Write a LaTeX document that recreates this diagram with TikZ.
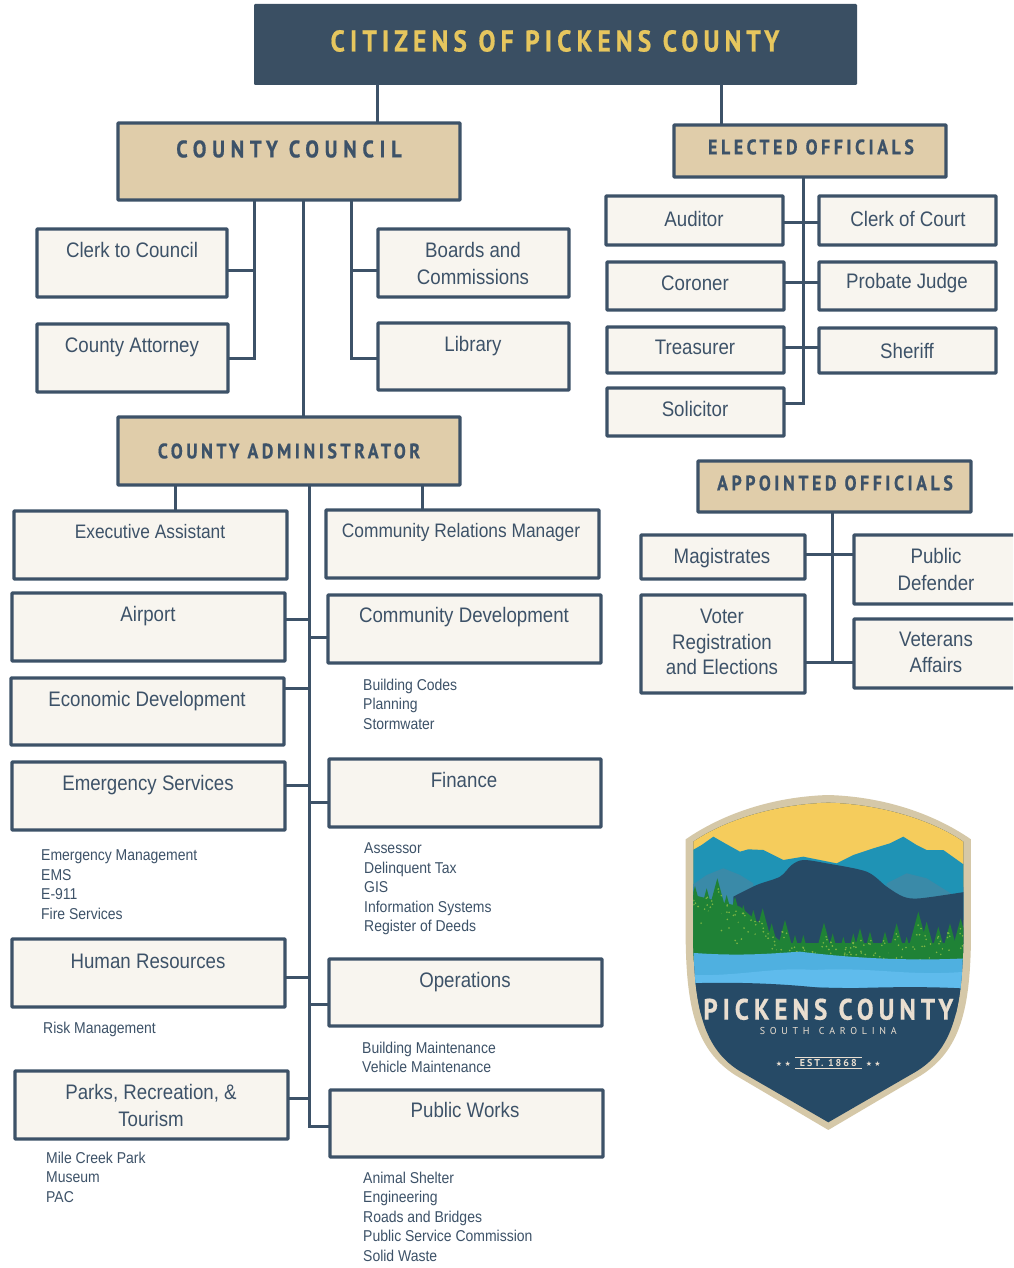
\documentclass[tikz,border=0pt]{standalone}
\usepackage{fontspec}
\setmainfont{Liberation Sans}[FakeStretch=0.89]
\newfontfamily\headf{PT Sans}[LetterSpace=17,FakeStretch=0.85,BoldFeatures={FakeBold=0.6}]
\newfontfamily\headwide{PT Sans}[LetterSpace=24,FakeStretch=0.85,BoldFeatures={FakeBold=0.6}]
\newfontfamily\logof{PT Sans}[LetterSpace=20]
\newfontfamily\starf{DejaVu Sans}
\definecolor{navy}{HTML}{3A4F63}
\definecolor{ink}{HTML}{3D5268}
\definecolor{tan}{HTML}{E0CDAA}
\definecolor{cream}{HTML}{F8F5EF}
\definecolor{gold}{HTML}{E6C65E}
\definecolor{lnavy}{HTML}{264A66}
\definecolor{lteal}{HTML}{1F93B5}
\definecolor{lhill}{HTML}{3A8AA8}
\definecolor{lsky}{HTML}{F5CC5C}
\definecolor{lgreen}{HTML}{1F8236}
\definecolor{llime}{HTML}{7DB544}
\definecolor{lwater}{HTML}{4FB0E0}
\definecolor{lwater2}{HTML}{5FBBEC}
\definecolor{lrim}{HTML}{D5C8A8}
\definecolor{ltext}{HTML}{E9DED0}
\tikzset{
  x=1pt,y=-1pt,
  boxbase/.style={draw=ink,line width=3.3pt,rounded corners=0.8pt,inner sep=0pt,outer sep=0pt},
  whitebox/.style={boxbase,fill=cream},
  tanbox/.style={boxbase,fill=tan},
  link/.style={draw=ink,line width=3pt,line cap=butt},
  lab/.style={text=ink,font=\fontsize{21}{26.2}\selectfont,align=center,inner sep=0pt},
  labsmall/.style={lab,font=\fontsize{19.5}{24}\selectfont},
  sublist/.style={text=ink,font=\fontsize{15.7}{19.6}\selectfont,align=left,anchor=north west,inner sep=0pt,yshift=-3.5pt},
  headtxt/.style={text=ink,inner sep=0pt},
}
% name, x0, y0, x1, y1, style
\newcommand\rbox[6]{\path let \n1={(#2+#4)/2},\n2={(#3+#5)/2},\n3={abs(#4-#2)},\n4={abs(#5-#3)} in
  node[#6,minimum width=\n3,minimum height=\n4] (#1) at (\n1,\n2) {};}
\newcommand\tobus[3]{\coordinate (tmpb) at (#2,#3); \draw[link] (#1 |- tmpb) -- (tmpb);}
\newcommand\drop[3]{\coordinate (tmpb) at (#3,0); \draw[link] (#1.south -| tmpb) -- (#2.north -| tmpb);}
\newcommand\shieldpath[1]{%
 (565,45+#1) .. controls (400,50+#1) and (250,100+#1) .. (137+#1,178+0.3*#1)
 -- (137+#1,480) .. controls (140+#1,690) and (170+#1,810) .. (285+0.8*#1,885-0.4*#1)
 -- (565,1050-#1) -- (845-0.8*#1,885-0.4*#1)
 .. controls (960-#1,810) and (990-#1,690) .. (993-#1,480)
 -- (993-#1,178+0.3*#1) .. controls (880,100+#1) and (730,50+#1) .. (565,45+#1) -- cycle}
\usetikzlibrary{calc}
\begin{document}
\begin{tikzpicture}
\clip (0,0) rectangle (1013,1268);
\fill[white] (0,0) rectangle (1013,1268);

% boxes
\node[fill=navy,draw=navy,line width=1pt,minimum width=602pt,minimum height=80pt,inner sep=0pt,outer sep=0pt,rounded corners=0.8pt] (top) at (555.5,44.5) {};
\rbox{cc}{118}{123}{460}{200}{tanbox}
\rbox{el}{674}{125}{946}{177}{tanbox}
\rbox{clerk}{37}{229}{227}{297}{whitebox}
\rbox{atty}{37}{324}{228}{392}{whitebox}
\rbox{boards}{378}{229}{569}{297}{whitebox}
\rbox{lib}{378}{323}{569}{390}{whitebox}
\rbox{aud}{606}{196}{783}{245}{whitebox}
\rbox{coc}{819}{196}{996}{245}{whitebox}
\rbox{cor}{607}{262}{784}{310}{whitebox}
\rbox{prob}{819}{262}{996}{310}{whitebox}
\rbox{treas}{607}{327}{784}{373}{whitebox}
\rbox{sher}{819}{328}{996}{373}{whitebox}
\rbox{sol}{607}{388}{784}{436}{whitebox}
\rbox{adm}{118}{417}{460}{485}{tanbox}
\rbox{exec}{14}{511}{287}{579}{whitebox}
\rbox{crm}{326}{510}{599}{578}{whitebox}
\rbox{air}{12}{593}{285}{661}{whitebox}
\rbox{cd}{328}{595}{601}{663}{whitebox}
\rbox{econ}{11}{678}{284}{745}{whitebox}
\rbox{ems}{12}{762}{285}{830}{whitebox}
\rbox{fin}{329}{759}{601}{827}{whitebox}
\rbox{hr}{12}{939}{285}{1007}{whitebox}
\rbox{ops}{329}{959}{602}{1026}{whitebox}
\rbox{parks}{15}{1071}{288}{1139}{whitebox}
\rbox{pw}{330}{1090}{603}{1157}{whitebox}
\rbox{app}{698}{461}{971}{512}{tanbox}
\rbox{mag}{641}{535}{805}{579}{whitebox}
\rbox{pd}{854}{535}{1030}{604}{whitebox}
\rbox{voter}{641}{595}{805}{693}{whitebox}
\rbox{vet}{854}{619}{1030}{688}{whitebox}

% connectors
\drop{top}{cc}{377}
\drop{top}{el}{721}
\drop{cc}{adm}{303}
\coordinate (a1) at (254,358);
\draw[link] (cc.south -| a1) -- (a1) -- (atty.east |- a1);
\tobus{clerk.east}{254}{270}
\coordinate (a2) at (351,358);
\draw[link] (cc.south -| a2) -- (a2) -- (lib.west |- a2);
\tobus{boards.west}{351}{270}
\coordinate (a3) at (803,403);
\draw[link] (el.south -| a3) -- (a3) -- (sol.east |- a3);
\coordinate (b1) at (803,222);
\draw[link] (aud.east |- b1) -- (coc.west |- b1);
\coordinate (b2) at (803,282);
\draw[link] (cor.east |- b2) -- (prob.west |- b2);
\coordinate (b3) at (803,347);
\draw[link] (treas.east |- b3) -- (sher.west |- b3);
\drop{adm}{exec}{175}
\drop{adm}{crm}{422}
\coordinate (a4) at (309,1126);
\draw[link] (adm.south -| a4) -- (a4) -- (pw.west |- a4);
\tobus{air.east}{309}{619}
\tobus{cd.west}{309}{637}
\tobus{econ.east}{309}{688}
\tobus{ems.east}{309}{785}
\tobus{fin.west}{309}{802}
\tobus{hr.east}{309}{977}
\tobus{ops.west}{309}{1004}
\tobus{parks.east}{309}{1098}
\coordinate (a5) at (832,662);
\draw[link] (app.south -| a5) -- (a5);
\coordinate (b4) at (832,554);
\draw[link] (mag.east |- b4) -- (pd.west |- b4);
\draw[link] (voter.east |- a5) -- (vet.west |- a5);

% headings
\node[inner sep=0pt,text=gold,font=\headf\bfseries\fontsize{30}{30}\selectfont] (ttop) at (555,41) {CITIZENS OF PICKENS COUNTY};
\node[headtxt,font=\headwide\bfseries\fontsize{24}{24}\selectfont] (tcc) at (289,149) {COUNTY COUNCIL};
\node[headtxt,font=\headf\bfseries\fontsize{21}{21}\selectfont] (tel) at (811,147) {ELECTED OFFICIALS};
\node[headtxt,font=\headf\bfseries\fontsize{21}{21}\selectfont] (tadm) at (289,451) {COUNTY ADMINISTRATOR};
\node[headtxt,font=\headf\bfseries\fontsize{21}{21}\selectfont] (tapp) at (835,483) {APPOINTED OFFICIALS};

% box labels
\node[lab] (t1) at (132,249.5) {Clerk to Council};
\node[lab] (t2) at (132,347.5) {County Attorney};
\node[lab] (t3) at (473,263.5) {Boards and\\Commissions};
\node[lab] (t4) at (473,346) {Library};
\node[lab] (t5) at (694,218.5) {Auditor};
\node[lab] (t6) at (908,218.5) {Clerk of Court};
\node[lab] (t7) at (695,283.5) {Coroner};
\node[lab] (t8) at (907,283.5) {Probate Judge};
\node[lab] (t9) at (695,347) {Treasurer};
\node[lab] (t10) at (907,350.5) {Sheriff};
\node[lab] (t11) at (695,408.5) {Solicitor};
\node[labsmall] (t12) at (150,532) {Executive Assistant};
\node[labsmall] (t13) at (461,532) {Community Relations Manager};
\node[lab] (t14) at (148,616.5) {Airport};
\node[lab] (t15) at (464,617.5) {Community Development};
\node[lab] (t16) at (147,701) {Economic Development};
\node[lab] (t17) at (148,785) {Emergency Services};
\node[lab] (t18) at (464,779.5) {Finance};
\node[lab] (t19) at (148,961) {Human Resources};
\node[lab] (t20) at (465,982.5) {Operations};
\node[lab] (t21) at (151,1105.5) {Parks, Recreation, \&\\Tourism};
\node[lab] (t22) at (465,1109.5) {Public Works};
\node[lab] (t23) at (722,558) {Magistrates};
\node[lab] (t24) at (936,569.5) {Public\\Defender};
\node[lab,font=\fontsize{21}{25.5}\selectfont] (t25) at (722,642) {Voter\\Registration\\and Elections};
\node[lab] (t26) at (936,652.5) {Veterans\\Affairs};

% sub lists
\node[sublist] (s1) at (363,675) {Building Codes\\Planning\\Stormwater};
\node[sublist] (s2) at (364,839) {Assessor\\Delinquent Tax\\GIS\\Information Systems\\Register of Deeds};
\node[sublist] (s3) at (41,846) {Emergency Management\\EMS\\E-911\\Fire Services};
\node[sublist] (s4) at (43,1018) {Risk Management};
\node[sublist] (s5) at (362,1038) {Building Maintenance\\Vehicle Maintenance};
\node[sublist] (s6) at (46,1148) {Mile Creek Park\\Museum\\PAC};
\node[sublist] (s7) at (363,1168) {Animal Shelter\\Engineering\\Roads and Bridges\\Public Service Commission\\Solid Waste};

% logo
\begin{scope}[shift={(640,780)},x=0.3333pt,y=-0.3333pt]
\fill[lrim] \shieldpath{0};
\begin{scope}
\clip \shieldpath{23};
\fill[lnavy] (100,0) rectangle (1030,1100);
\fill[lsky] (100,0) rectangle (1030,320);
\fill[lteal] (150,215) -- (185,195) -- (220,170) -- (255,190) -- (300,215) -- (325,208) -- (370,210) -- (430,240) -- (490,230) -- (590,250) -- (640,225) -- (700,205) -- (750,190) -- (790,170) -- (830,195) -- (860,210) -- (910,210) -- (945,235) -- (980,260) -- (980,420) -- (150,420) -- cycle;
\fill[lhill] (150,320) -- (200,285) -- (250,265) -- (300,285) -- (340,310) -- (340,420) -- (150,420) -- cycle;
\fill[lhill] (740,310) -- (800,280) -- (860,295) -- (900,320) -- (940,345) -- (740,380) -- cycle;
\fill[lnavy] plot[smooth,tension=0.5] coordinates {(280,350) (350,315) (420,290) (455,255) (490,240) (560,250) (680,275) (740,320) (790,350) (840,355) (980,335)} -- (980,530) -- (280,530) -- cycle;
\fill[lgreen] (140,490) rectangle (990,545);
\fill[lgreen] (140,340) -- (300,380) -- (440,500) -- (140,500) -- cycle;
\pgfmathsetseed{4242}
\foreach \tx/\ty in {165/318,200/325,232/295,260/345,285/350,310/375,340/390,368/385,395/430,435/420,465/465,490/465,520/490,552/428,578/460,610/470,640/460,660/445,690/455,735/455,770/430,800/470,835/395,860/425,895/440,930/430,962/415}{
  \pgfmathsetmacro{\hw}{0.27*(540-\ty)}
  \fill[lgreen] (\tx,\ty) -- (\tx+\hw,540) -- (\tx-\hw,540) -- cycle;
  \foreach \k in {1,...,7}{
    \pgfmathsetmacro{\dy}{25+rnd*min(90,(515-\ty))}
    \pgfmathsetmacro{\dx}{(2*rnd-1)*0.25*\dy}
    \fill[llime] (\tx+\dx,\ty+\dy) circle[radius=0.9pt];
  }
}
\fill[lwater] (150,518) .. controls (300,530) and (400,520) .. (480,515) .. controls (600,530) and (780,545) .. (980,535) -- (980,630) -- (150,615) -- cycle;
\fill[lwater2] (150,585) .. controls (300,590) and (400,560) .. (520,570) .. controls (700,560) and (800,590) .. (980,575) -- (980,630) -- (150,615) -- cycle;
\fill[lnavy] (150,610) .. controls (300,605) and (450,612) .. (570,627) .. controls (700,622) and (850,618) .. (980,626) -- (980,700) -- (150,700) -- cycle;
\draw[ltext,line width=0.4pt] (465,832) -- (665,832) (465,864) -- (665,864);
\end{scope}
\node[text=ltext,inner sep=0pt,font=\headf\bfseries\fontsize{29.5}{30}\selectfont] (lg1) at (565,688) {PICKENS COUNTY};
\node[text=ltext,inner sep=0pt,font=\logof\fontsize{10}{10}\selectfont] (lg2) at (565,752) {S O U T H\ \ C A R O L I N A};
\node[text=ltext,inner sep=0pt,font=\logof\bfseries\fontsize{10}{10}\selectfont] (lg3) at (565,848) {{\starf\fontsize{7}{7}\selectfont ★ ★}\ \ EST. 1868\ \ {\starf\fontsize{7}{7}\selectfont ★ ★}};
\end{scope}
\end{tikzpicture}
\end{document}
